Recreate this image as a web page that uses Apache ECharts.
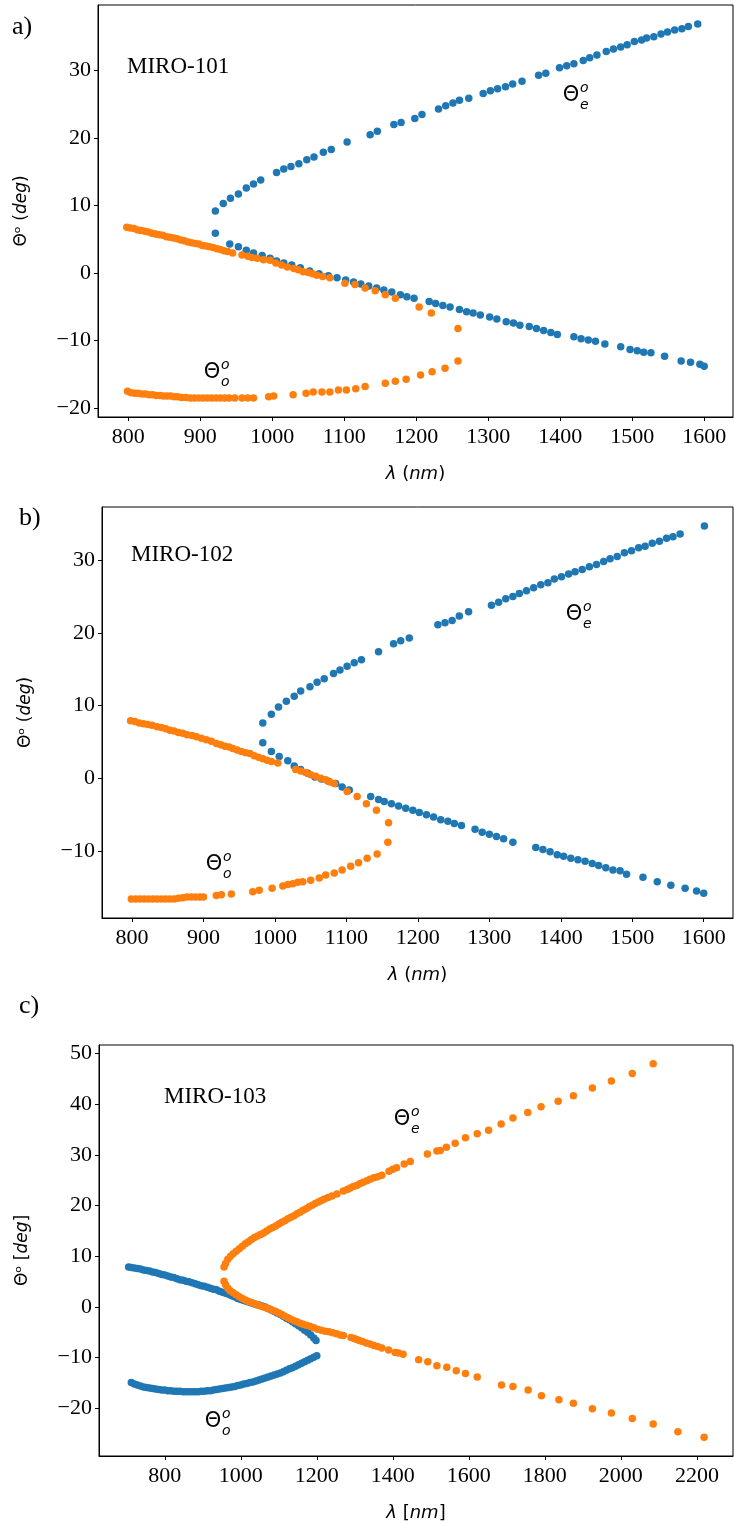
<!DOCTYPE html>
<html>
<head>
<meta charset="utf-8">
<script src="https://cdn.jsdelivr.net/npm/echarts@6/dist/echarts.min.js"></script>
<style>
  html, body { margin: 0; padding: 0; background: #fff; }
  #chart { width: 734px; height: 1525px; }
</style>
</head>
<body>
<div id="chart"></div>
<script>
// tick labels
const xTicksAB = [800, 900, 1000, 1100, 1200, 1300, 1400, 1500, 1600];
const xTicksC = [800, 1000, 1200, 1400, 1600, 1800, 2000, 2200];
const yTicksA = [-20, -10, 0, 10, 20, 30];
const yTicksB = [-10, 0, 10, 20, 30];
const yTicksC = [-20, -10, 0, 10, 20, 30, 40, 50];

// a) MIRO-101  [lambda nm, theta deg]
const miro101BlueUpper = [[921,9.2],[932,10.3],[942,11.1],[953,11.7],[964,12.6],[974,13.2],[984,13.8],[1006,14.9],[1016,15.4],[1026,15.8],[1037,16.2],[1048,16.8],[1058,17.2],[1071,17.9],[1082,18.3],[1104,19.4],[1136,20.5],[1146,21.0],[1169,22.0],[1179,22.3],[1198,22.9],[1208,23.5],[1231,24.3],[1241,24.8],[1251,25.2],[1260,25.6],[1273,25.9],[1293,26.6],[1303,27.0],[1313,27.3],[1324,27.6],[1334,28.0],[1347,28.4],[1370,29.3],[1380,29.6],[1399,30.4],[1409,30.7],[1419,31.0],[1432,31.5],[1441,31.9],[1451,32.3],[1464,32.8],[1474,33.2],[1484,33.5],[1493,33.8],[1503,34.3],[1513,34.5],[1520,34.8],[1530,35.0],[1540,35.4],[1549,35.7],[1559,36.0],[1569,36.2],[1578,36.5],[1591,36.9]];
const miro101BlueLower = [[921,5.9],[941,4.3],[953,3.9],[964,3.4],[974,3.0],[986,2.6],[997,2.2],[1006,1.8],[1016,1.5],[1027,1.2],[1039,0.8],[1052,0.3],[1065,-0.1],[1078,-0.4],[1090,-0.7],[1102,-1.0],[1113,-1.3],[1123,-1.6],[1134,-1.9],[1145,-2.2],[1155,-2.5],[1166,-2.8],[1178,-3.2],[1187,-3.5],[1197,-3.7],[1218,-4.2],[1227,-4.5],[1237,-4.8],[1247,-5.0],[1260,-5.4],[1270,-5.7],[1279,-5.9],[1289,-6.2],[1302,-6.5],[1312,-6.8],[1325,-7.2],[1335,-7.4],[1344,-7.7],[1357,-7.9],[1367,-8.2],[1377,-8.5],[1387,-8.8],[1396,-9.1],[1419,-9.4],[1429,-9.7],[1439,-9.9],[1449,-10.1],[1462,-10.5],[1484,-10.9],[1497,-11.3],[1507,-11.5],[1516,-11.7],[1526,-11.8],[1545,-12.3],[1568,-13.0],[1581,-13.2],[1594,-13.5],[1600,-13.8]];
const miro101OrangeUpper = [[798,6.8],[803,6.7],[808,6.6],[813,6.4],[818,6.3],[823,6.2],[828,6.1],[833,5.9],[838,5.8],[843,5.7],[848,5.6],[853,5.4],[858,5.3],[863,5.2],[868,5.1],[873,4.9],[878,4.8],[883,4.6],[888,4.5],[893,4.4],[898,4.3],[903,4.1],[908,4.0],[913,3.9],[918,3.8],[923,3.6],[928,3.5],[933,3.3],[938,3.2],[945,3.0],[958,2.7],[966,2.5],[972,2.3],[979,2.2],[988,2.0],[997,1.9],[1005,1.5],[1013,1.2],[1021,0.9],[1030,0.7],[1036,0.5],[1043,0.2],[1050,0.1],[1056,-0.1],[1062,-0.3],[1070,-0.5],[1080,-0.7],[1101,-1.5],[1115,-1.7],[1129,-2.2],[1143,-2.6],[1157,-3.2],[1171,-3.7],[1204,-5.0],[1221,-5.9],[1258,-8.2]];
const miro101OrangeLower = [[799,-17.5],[804,-17.7],[809,-17.8],[814,-17.8],[819,-17.9],[824,-17.9],[829,-18.0],[834,-18.0],[839,-18.1],[844,-18.1],[849,-18.2],[854,-18.2],[859,-18.2],[864,-18.3],[869,-18.3],[874,-18.4],[880,-18.4],[886,-18.5],[892,-18.5],[898,-18.5],[904,-18.5],[910,-18.5],[916,-18.5],[922,-18.5],[928,-18.5],[934,-18.5],[940,-18.5],[948,-18.5],[958,-18.5],[966,-18.5],[974,-18.5],[995,-18.3],[1002,-18.2],[1029,-18.0],[1047,-17.8],[1057,-17.6],[1069,-17.6],[1080,-17.6],[1092,-17.3],[1103,-17.3],[1116,-17.1],[1129,-16.8],[1157,-16.3],[1171,-16.0],[1186,-15.7],[1206,-15.1],[1222,-14.6],[1240,-14.1],[1258,-13.0]];

// b) MIRO-102
const miro102BlueUpper = [[983,7.6],[995,8.8],[1005,9.8],[1016,10.6],[1027,11.3],[1036,12.0],[1049,12.6],[1059,13.2],[1069,13.7],[1082,14.4],[1091,14.9],[1101,15.4],[1111,15.9],[1121,16.3],[1145,17.4],[1166,18.5],[1176,18.9],[1188,19.3],[1228,21.1],[1238,21.4],[1248,21.7],[1258,22.3],[1271,22.9],[1303,23.8],[1313,24.2],[1323,24.7],[1333,25.0],[1342,25.4],[1352,25.8],[1362,26.2],[1372,26.6],[1382,26.9],[1391,27.4],[1401,27.7],[1411,28.1],[1420,28.4],[1430,28.7],[1440,29.1],[1450,29.4],[1460,29.8],[1469,30.2],[1479,30.5],[1489,31.0],[1499,31.3],[1509,31.7],[1518,31.9],[1528,32.3],[1538,32.6],[1548,33.0],[1557,33.2],[1567,33.6],[1601,34.7]];
const miro102BlueLower = [[983,4.9],[995,3.7],[1006,3.0],[1018,2.4],[1027,1.7],[1036,1.2],[1046,0.7],[1056,0.2],[1065,-0.1],[1075,-0.4],[1085,-0.7],[1094,-1.2],[1104,-1.6],[1134,-2.5],[1145,-2.9],[1153,-3.2],[1163,-3.5],[1173,-3.8],[1183,-4.1],[1193,-4.4],[1202,-4.7],[1212,-5.0],[1222,-5.3],[1232,-5.7],[1242,-5.9],[1251,-6.2],[1261,-6.5],[1280,-7.0],[1290,-7.4],[1300,-7.7],[1310,-8.0],[1320,-8.3],[1333,-8.8],[1365,-9.5],[1375,-9.8],[1385,-10.1],[1395,-10.5],[1404,-10.7],[1414,-11.0],[1424,-11.2],[1434,-11.4],[1444,-11.7],[1453,-12.0],[1463,-12.3],[1473,-12.6],[1483,-12.7],[1492,-13.2],[1515,-13.6],[1535,-14.2],[1554,-14.7],[1574,-15.1],[1590,-15.5],[1600,-15.8]];
const miro102OrangeUpper = [[798,7.9],[804,7.8],[810,7.6],[816,7.5],[822,7.4],[828,7.3],[835,7.1],[841,7.0],[847,6.8],[853,6.6],[859,6.5],[865,6.3],[871,6.2],[877,6.0],[884,5.9],[890,5.7],[897,5.5],[904,5.3],[911,5.1],[918,4.8],[924,4.6],[930,4.4],[936,4.3],[941,4.1],[947,3.9],[953,3.7],[959,3.5],[965,3.4],[971,3.1],[977,2.9],[983,2.7],[989,2.5],[995,2.3],[1004,2.1],[1029,1.2],[1036,1.0],[1043,0.8],[1050,0.5],[1057,0.3],[1064,0.0],[1071,-0.2],[1077,-0.5],[1083,-0.7],[1101,-1.8],[1115,-2.5],[1128,-3.5],[1142,-4.4],[1159,-6.1]];
const miro102OrangeLower = [[799,-16.6],[805,-16.6],[811,-16.6],[817,-16.6],[823,-16.6],[829,-16.6],[835,-16.6],[841,-16.6],[847,-16.6],[853,-16.6],[859,-16.6],[865,-16.5],[871,-16.4],[877,-16.3],[883,-16.3],[889,-16.3],[895,-16.3],[900,-16.3],[918,-16.1],[925,-16.0],[939,-15.9],[969,-15.6],[978,-15.4],[996,-15.1],[1011,-14.8],[1018,-14.6],[1025,-14.5],[1032,-14.3],[1039,-14.2],[1050,-14.0],[1062,-13.7],[1071,-13.3],[1083,-13.0],[1094,-12.6],[1106,-12.1],[1117,-11.6],[1129,-11.0],[1143,-10.4],[1158,-8.8]];

// c) MIRO-103 (colours swapped in this panel)
const miro103BlueUpper = [[705,7.9],[712,7.8],[720,7.7],[728,7.6],[736,7.5],[744,7.3],[752,7.2],[760,7.1],[768,6.9],[776,6.8],[784,6.6],[792,6.4],[800,6.3],[808,6.1],[816,5.9],[824,5.8],[832,5.6],[840,5.4],[848,5.3],[856,5.1],[864,5.0],[872,4.8],[880,4.6],[888,4.4],[896,4.2],[904,4.1],[912,3.9],[920,3.7],[928,3.5],[936,3.4],[944,3.1],[952,2.9],[960,2.7],[968,2.5],[976,2.2],[984,2.0],[992,1.7],[1000,1.5],[1008,1.3],[1016,1.1],[1024,0.9],[1032,0.7],[1040,0.5],[1048,0.4],[1056,0.2],[1064,0.0],[1072,-0.3],[1080,-0.6],[1088,-0.9],[1096,-1.2],[1104,-1.5],[1112,-1.8],[1120,-2.2],[1128,-2.5],[1136,-2.9],[1144,-3.3],[1152,-3.7],[1160,-4.1],[1168,-4.6],[1176,-5.0],[1184,-5.5],[1192,-6.1],[1198,-6.6]];
const miro103BlueLower = [[712,-14.9],[720,-15.2],[728,-15.4],[736,-15.6],[744,-15.8],[752,-15.9],[760,-16.0],[768,-16.1],[776,-16.2],[784,-16.3],[792,-16.4],[800,-16.4],[808,-16.5],[816,-16.5],[824,-16.6],[832,-16.6],[840,-16.6],[848,-16.7],[856,-16.7],[864,-16.7],[872,-16.7],[880,-16.7],[888,-16.7],[896,-16.6],[904,-16.6],[912,-16.5],[920,-16.5],[928,-16.4],[936,-16.3],[944,-16.2],[952,-16.1],[960,-16.0],[968,-15.9],[976,-15.8],[984,-15.7],[992,-15.5],[1000,-15.4],[1008,-15.2],[1016,-15.1],[1024,-14.9],[1032,-14.8],[1040,-14.6],[1048,-14.4],[1056,-14.2],[1064,-14.0],[1072,-13.8],[1080,-13.6],[1088,-13.4],[1096,-13.2],[1104,-13.0],[1112,-12.8],[1120,-12.5],[1128,-12.2],[1136,-12.0],[1144,-11.7],[1152,-11.4],[1160,-11.1],[1168,-10.8],[1176,-10.5],[1184,-10.2],[1192,-9.9],[1200,-9.6]];
const miro103OrangeUpper = [[956,7.9],[960,8.6],[966,9.4],[973,10.0],[980,10.5],[988,11.0],[996,11.5],[1004,12.0],[1012,12.5],[1020,12.9],[1028,13.3],[1036,13.7],[1044,14.0],[1052,14.3],[1060,14.6],[1068,15.0],[1076,15.4],[1084,15.7],[1092,16.0],[1100,16.4],[1108,16.7],[1116,17.0],[1124,17.4],[1132,17.7],[1140,18.0],[1148,18.4],[1156,18.7],[1164,19.1],[1172,19.4],[1180,19.8],[1188,20.1],[1196,20.4],[1204,20.7],[1212,21.0],[1220,21.3],[1230,21.6],[1240,21.9],[1253,22.3],[1270,22.9],[1280,23.2],[1288,23.5],[1296,23.8],[1305,24.0],[1313,24.3],[1322,24.6],[1332,24.9],[1340,25.2],[1350,25.5],[1360,25.7],[1371,26.0],[1390,26.8],[1400,27.2],[1410,27.5],[1430,28.2],[1446,28.7],[1491,30.2],[1516,30.8],[1525,30.9],[1541,31.5],[1564,32.3],[1591,33.4],[1622,34.2],[1652,34.9],[1685,36.1],[1716,37.3],[1755,38.4],[1790,39.5],[1835,40.6],[1875,41.7],[1925,43.2],[1975,44.6],[2030,46.1],[2085,48.0]];
const miro103OrangeLower = [[956,5.1],[960,4.4],[966,3.7],[972,3.2],[980,2.8],[988,2.4],[996,2.0],[1004,1.7],[1012,1.4],[1020,1.1],[1028,0.9],[1036,0.7],[1044,0.4],[1052,0.2],[1060,0.0],[1068,-0.2],[1076,-0.4],[1084,-0.7],[1092,-0.9],[1100,-1.2],[1108,-1.5],[1116,-1.8],[1124,-2.1],[1132,-2.4],[1140,-2.7],[1148,-2.9],[1156,-3.2],[1164,-3.4],[1172,-3.6],[1182,-3.8],[1192,-4.1],[1202,-4.4],[1212,-4.6],[1222,-4.8],[1232,-4.9],[1242,-5.1],[1252,-5.3],[1262,-5.5],[1270,-5.6],[1290,-6.0],[1298,-6.2],[1305,-6.4],[1312,-6.6],[1320,-6.8],[1330,-7.1],[1340,-7.3],[1350,-7.6],[1360,-7.8],[1371,-8.1],[1389,-8.5],[1406,-9.0],[1415,-9.1],[1427,-9.3],[1468,-10.4],[1492,-10.8],[1516,-11.6],[1542,-11.9],[1567,-12.6],[1591,-13.1],[1622,-13.8],[1686,-15.4],[1716,-15.7],[1756,-16.4],[1791,-17.5],[1837,-18.3],[1875,-19.0],[1925,-20.1],[1975,-20.9],[2030,-22.0],[2085,-23.1],[2150,-24.6],[2219,-25.7]];

const BLUE = '#1f77b4';
const ORANGE = '#ff7f0e';
const SERIF = '"Liberation Serif", "Times New Roman", serif';
const SANS = '"DejaVu Sans", sans-serif';

const minus = v => String(v).replace('-', '\u2212');

function xAxisFor(gridIndex, min, max, ticks, name) {
  return {
    type: 'value', gridIndex, min, max,
    name, nameLocation: 'middle', nameGap: 48,
    nameTextStyle: {
      fontFamily: SANS, fontSize: 18, color: '#000',
      rich: { i: { fontFamily: SANS, fontSize: 18, fontStyle: 'italic' }, n: { fontFamily: SANS, fontSize: 18 } }
    },
    axisLine: { show: true, onZero: false, lineStyle: { color: '#000', width: 1 } },
    axisTick: { show: true, length: 4, customValues: ticks, lineStyle: { color: '#000' } },
    axisLabel: { customValues: ticks, fontFamily: SERIF, fontSize: 22, color: '#000', margin: 9, formatter: minus },
    splitLine: { show: false }
  };
}

function yAxisFor(gridIndex, min, max, ticks, name) {
  return {
    type: 'value', gridIndex, min, max,
    name, nameLocation: 'middle', nameGap: 68, nameRotate: 90,
    nameTextStyle: {
      fontFamily: SANS, fontSize: 17, color: '#000',
      rich: { i: { fontFamily: SANS, fontSize: 17, fontStyle: 'italic' }, n: { fontFamily: SANS, fontSize: 17 } }
    },
    axisLine: { show: true, onZero: false, lineStyle: { color: '#000', width: 1 } },
    axisTick: { show: true, length: 4, customValues: ticks, lineStyle: { color: '#000' } },
    axisLabel: { customValues: ticks, fontFamily: SERIF, fontSize: 22, color: '#000', margin: 7, formatter: minus },
    splitLine: { show: false }
  };
}

function scatter(idx, data, color) {
  return {
    type: 'scatter', xAxisIndex: idx, yAxisIndex: idx, data,
    symbol: 'circle', symbolSize: 7.5, itemStyle: { color, opacity: 1 },
    emphasis: { disabled: true }
  };
}

function txt(text, x, y, font, extra) {
  return {
    type: 'text', silent: true,
    style: Object.assign({ text, x, y, font, fill: '#000', textVerticalAlign: 'middle', verticalAlign: 'middle' }, extra || {})
  };
}

// Theta with superscript o and a subscript
function theta(x, y, sub) {
  return [
    txt('\u0398', x, y, '21px ' + SANS, { textAlign: 'center', align: 'center' }),
    txt('o', x + 9, y - 8, 'italic 14px ' + SANS),
    txt(sub, x + 9, y + 9, 'italic 14px ' + SANS)
  ];
}

const chart = echarts.init(document.getElementById('chart'), null, { renderer: 'canvas' });

chart.setOption({
  animation: false,
  backgroundColor: '#fff',
  grid: [
    { left: 98, top: 5, width: 635, height: 412, show: true, borderColor: '#000', borderWidth: 1 },
    { left: 102, top: 507, width: 631, height: 411, show: true, borderColor: '#000', borderWidth: 1 },
    { left: 99, top: 1045, width: 634, height: 411, show: true, borderColor: '#000', borderWidth: 1 }
  ],
  xAxis: [
    xAxisFor(0, 758, 1640, xTicksAB, '{i|\u03bb} {n|(}{i|nm}{n|)}'),
    xAxisFor(1, 758, 1641, xTicksAB, '{i|\u03bb} {n|(}{i|nm}{n|)}'),
    xAxisFor(2, 627, 2295, xTicksC, '{i|\u03bb} {n|[}{i|nm}{n|]}')
  ],
  yAxis: [
    yAxisFor(0, -21.3, 39.7, yTicksA, '{n|\u0398\u1d52 (}{i|deg}{n|)}'),
    yAxisFor(1, -19.2, 37.3, yTicksB, '{n|\u0398\u1d52 (}{i|deg}{n|)}'),
    yAxisFor(2, -29.4, 51.7, yTicksC, '{n|\u0398\u1d52 [}{i|deg}{n|]}')
  ],
  series: [
    scatter(0, miro101BlueUpper.concat(miro101BlueLower), BLUE),
    scatter(0, miro101OrangeUpper.concat(miro101OrangeLower), ORANGE),
    scatter(1, miro102BlueUpper.concat(miro102BlueLower), BLUE),
    scatter(1, miro102OrangeUpper.concat(miro102OrangeLower), ORANGE),
    scatter(2, miro103BlueUpper.concat(miro103BlueLower), BLUE),
    scatter(2, miro103OrangeUpper.concat(miro103OrangeLower), ORANGE)
  ],
  graphic: [
    txt('a)', 12, 27, '26px ' + SERIF),
    txt('MIRO-101', 127, 67, '23px ' + SERIF),
    ...theta(571, 96, 'e'),
    ...theta(212, 373, 'o'),
    txt('b)', 19, 518, '26px ' + SERIF),
    txt('MIRO-102', 131, 555, '23px ' + SERIF),
    ...theta(574, 615, 'e'),
    ...theta(214, 865, 'o'),
    txt('c)', 19, 1006, '26px ' + SERIF),
    txt('MIRO-103', 164, 1097, '23px ' + SERIF),
    ...theta(402, 1120, 'e'),
    ...theta(213, 1422, 'o')
  ]
});
</script>
</body>
</html>
